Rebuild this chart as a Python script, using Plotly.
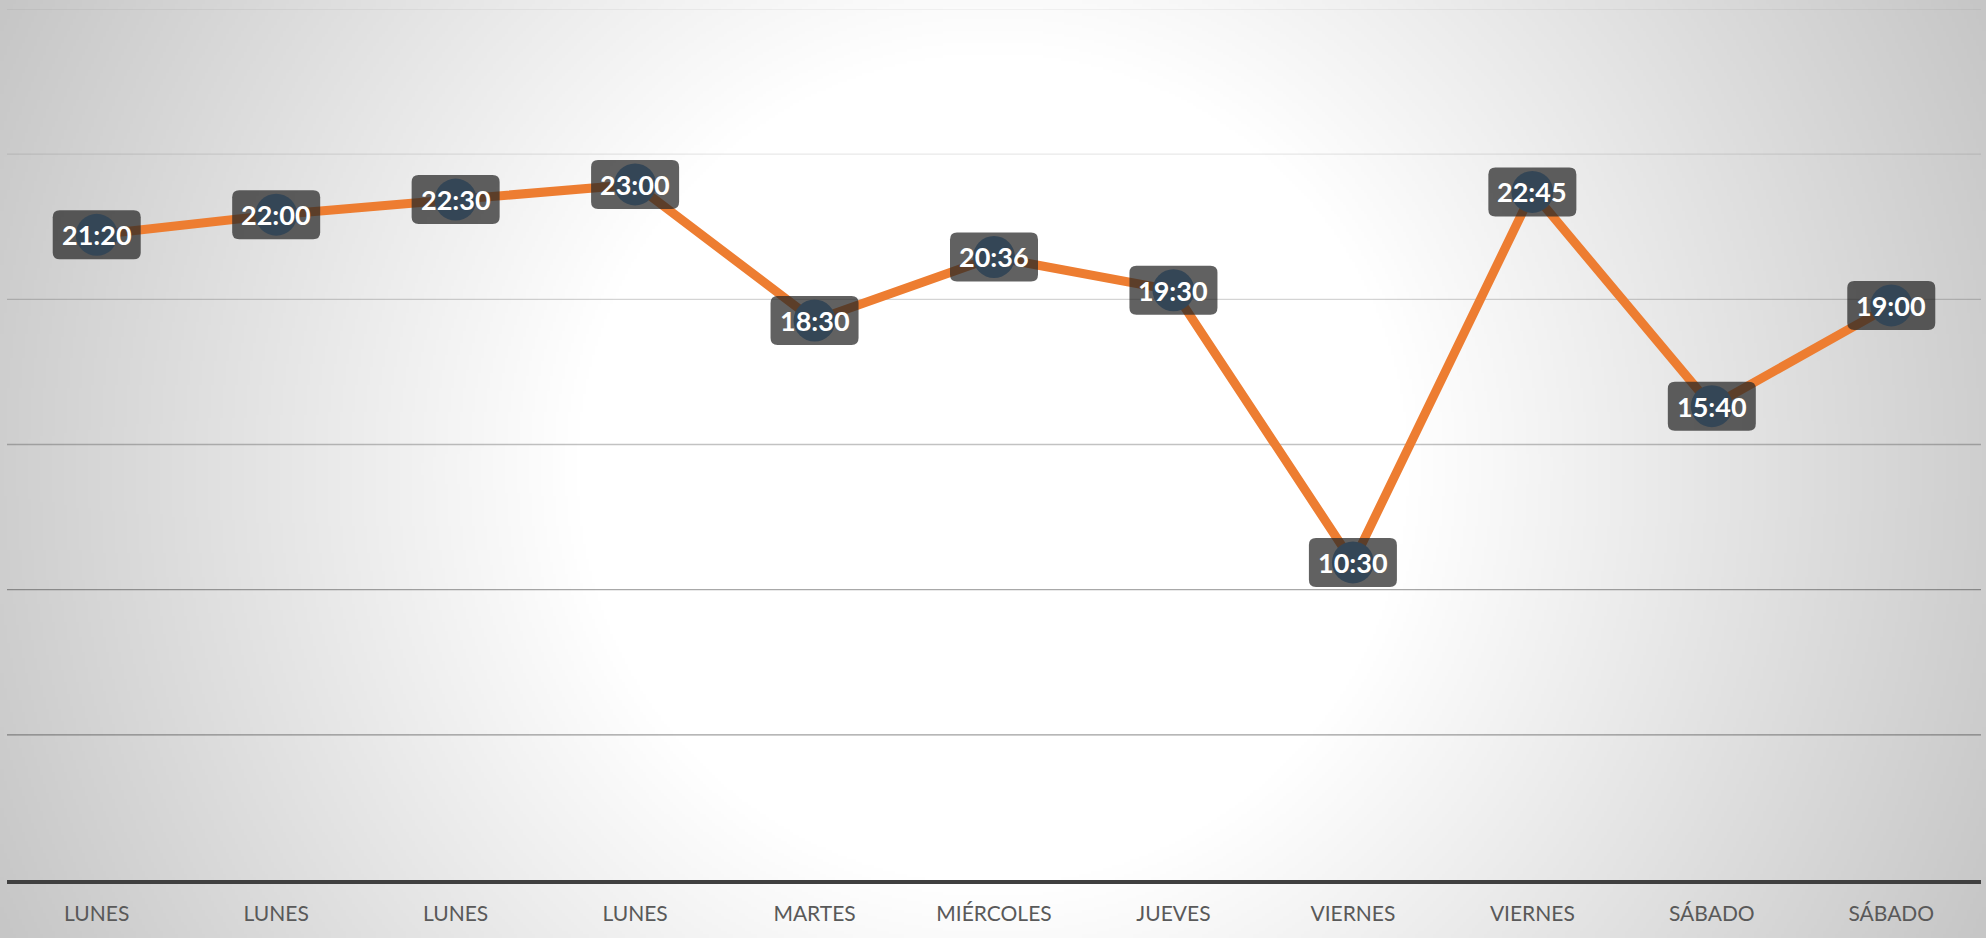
import base64
import struct
import zlib

import numpy as np
import plotly.graph_objects as go


days = ["LUNES", "LUNES", "LUNES", "LUNES", "MARTES", "MIÉRCOLES", "JUEVES",
        "VIERNES", "VIERNES", "SÁBADO", "SÁBADO"]
times = ["21:20", "22:00", "22:30", "23:00", "18:30", "20:36", "19:30",
         "10:30", "22:45", "15:40", "19:00"]

# y axis in hours, Excel time axis 0..1.2 days with major unit 0.2 days
y_max = 28.8
grid_step = 4.8


def to_hours(s):
    h, m = s.split(":")
    return int(h) + int(m) / 60


hours = [to_hours(t) for t in times]
x_idx = list(range(len(days)))

W, H = 1986, 938
margin = dict(l=7, r=5, t=9, b=58)
plot_w = W - margin["l"] - margin["r"]
plot_h = H - margin["t"] - margin["b"]


def radial_png(w, h):
    # white centre fading to grey towards the corners
    yy, xx = np.mgrid[0:h, 0:w]
    cx, cy = (w - 1) / 2, (h - 1) / 2
    d = np.hypot((xx - cx) / w * W, (yy - cy) / h * H)
    t = d / d.max()
    v = np.where(t < 0.38, 255.0, 255.0 - 57.0 * (t - 0.38) / 0.62)
    img = np.clip(v, 0, 255).astype(np.uint8)
    raw = b"".join(b"\x00" + row.tobytes() for row in img)

    def chunk(tag, data):
        c = struct.pack(">I", len(data)) + tag + data
        return c + struct.pack(">I", zlib.crc32(tag + data) & 0xFFFFFFFF)

    png = b"\x89PNG\r\n\x1a\n"
    png += chunk(b"IHDR", struct.pack(">IIBBBBB", w, h, 8, 0, 0, 0, 0))
    png += chunk(b"IDAT", zlib.compress(raw, 9))
    png += chunk(b"IEND", b"")
    return "data:image/png;base64," + base64.b64encode(png).decode()


fig = go.Figure()

fig.add_trace(
    go.Scatter(
        x=x_idx,
        y=hours,
        mode="lines+markers",
        line=dict(color="#ED7D31", width=9),
        marker=dict(size=42, color="#5B9BD5"),
        hoverinfo="skip",
        cliponaxis=False,
        showlegend=False,
    )
)

# gridlines get darker towards the bottom
grid_alpha = [0.38, 0.34, 0.24, 0.17, 0.09, 0.06]
for i, a in enumerate(grid_alpha):
    fig.add_hline(y=grid_step * (i + 1), line_color=f"rgba(0,0,0,{a})",
                  line_width=1.3, layer="below")

# rounded label boxes, sized in pixels around each point
bw, bh, r = 44, 24.5, 7
box_path = (f"M {-bw + r},{bh} L {bw - r},{bh} Q {bw},{bh} {bw},{bh - r} "
            f"L {bw},{-bh + r} Q {bw},{-bh} {bw - r},{-bh} "
            f"L {-bw + r},{-bh} Q {-bw},{-bh} {-bw},{-bh + r} "
            f"L {-bw},{bh - r} Q {-bw},{bh} {-bw + r},{bh} Z")
for xi, yv, label in zip(x_idx, hours, times):
    fig.add_shape(
        type="path",
        xref="x", yref="y",
        xsizemode="pixel", ysizemode="pixel",
        xanchor=xi, yanchor=yv,
        path=box_path,
        fillcolor="rgba(38,38,38,0.73)",
        line_width=0,
        layer="above",
    )
    fig.add_annotation(
        x=xi, y=yv, text=f"<b>{label}</b>", showarrow=False,
        font=dict(family="Lato", size=27, color="white"),
    )

fig.add_layout_image(
    source=radial_png(662, 313),
    xref="paper", yref="paper",
    x=-margin["l"] / plot_w, y=1 + margin["t"] / plot_h,
    sizex=W / plot_w, sizey=H / plot_h,
    xanchor="left", yanchor="top",
    sizing="stretch", layer="below",
)

fig.update_xaxes(
    range=[-0.5, len(days) - 0.5],
    tickvals=x_idx,
    ticktext=days,
    tickfont=dict(family="Lato", size=21, color="#595959"),
    showgrid=False,
    zeroline=False,
    showline=True,
    linecolor="#404040",
    linewidth=4,
    ticks="",
    ticklabelstandoff=12,
)
fig.update_yaxes(
    range=[0, y_max],
    showticklabels=False,
    showgrid=False,
    zeroline=False,
)

fig.update_layout(
    width=W,
    height=H,
    margin=margin,
    paper_bgcolor="#d0d0d0",
    plot_bgcolor="rgba(0,0,0,0)",
)

# drop the default page margin so the figure fills the window
fig.write_html("out.html",
               config={"displayModeBar": False},
               post_script="document.body.style.margin='0';")
